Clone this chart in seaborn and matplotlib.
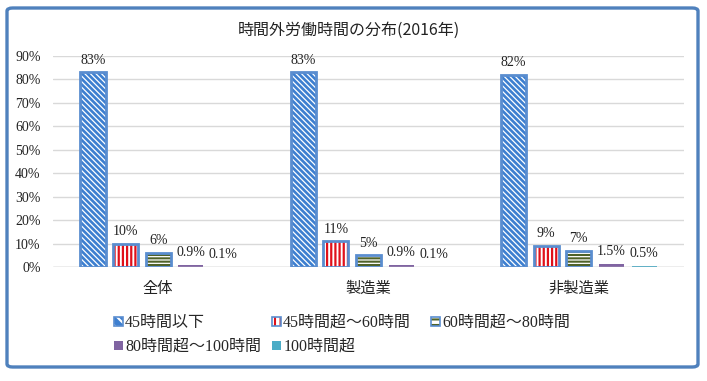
import matplotlib
matplotlib.use("Agg")
import matplotlib.pyplot as plt
import seaborn as sns
import pandas as pd
from matplotlib.patches import Patch, Rectangle, FancyBboxPatch

categories = ["全体", "製造業", "非製造業"]
groups = ["45時間以下", "45時間超～60時間", "60時間超～80時間", "80時間超～100時間", "100時間超"]
share_all = [83, 10, 6, 0.9, 0.1]
share_mfg = [83, 11, 5, 0.9, 0.1]
share_nonmfg = [82, 9, 7, 1.5, 0.5]
yticks = [0, 10, 20, 30, 40, 50, 60, 70, 80, 90]

face = ["#3d7fd0", "white", "white", "#8064a2", "#4bacc6"]
hatch_col = ["white", "#e0101a", "#4f6228", None, None]
hatches = ["\\" * 6, "||||", "-----", None, None]
hatch_lw = [0.9, 1.6, 1.5, None, None]
border = "#5a8dcf"
frame_col = "#4f81bd"

df = pd.DataFrame({
    "category": [c for c in categories for _ in groups],
    "group": groups * 3,
    "share": share_all + share_mfg + share_nonmfg,
})

sns.set_theme(style="white")
plt.rcParams["font.family"] = ["Liberation Serif", "Noto Sans CJK JP"]
plt.rcParams["hatch.linewidth"] = 1.5
cjk = ["Liberation Serif", "Noto Sans CJK JP"]

fig = plt.figure(figsize=(7.07, 3.81), dpi=100)
ax = fig.add_axes([0.075, 0.299, 0.8925, 0.554])

sns.barplot(data=df, x="category", y="share", hue="group", hue_order=groups,
            palette=face, saturation=1, width=0.775, gap=0.23, legend=False, ax=ax)

for i, cont in enumerate(ax.containers):
    for bar in cont:
        bar.set_linewidth(0)
        if hatches[i]:
            bar.set_hatch(hatches[i])
            bar.set_edgecolor(hatch_col[i])
            if hasattr(bar, "set_hatch_linewidth"):
                bar.set_hatch_linewidth(hatch_lw[i])
            ax.add_patch(Rectangle((bar.get_x(), bar.get_y()), bar.get_width(), bar.get_height(),
                                   fill=False, edgecolor=border, lw=2, zorder=3))
    ax.bar_label(cont, labels=[f"{v:g}%" for v in cont.datavalues], padding=4,
                 fontsize=10, family="Liberation Serif", color="#222222")

ax.set_ylim(0, 90)
ax.set_yticks(yticks)
ax.set_yticklabels([f"{t}%" for t in yticks], fontsize=10, family="Liberation Serif", color="#222222")
ax.set_xticks(range(len(categories)))
ax.set_xticklabels(categories, fontsize=11, family="Noto Sans CJK JP", color="#222222")
ax.tick_params(axis="y", length=0, pad=9)
ax.tick_params(axis="x", length=0, pad=9)
ax.set_xlabel("")
ax.set_ylabel("")
ax.yaxis.grid(True, color="#d9d9d9", lw=1)
ax.set_axisbelow(True)
for s in ax.spines.values():
    s.set_visible(False)
ax.axhline(0, color="#c8c8c8", lw=1, zorder=1)

handles = []
for i in range(len(groups)):
    if hatches[i]:
        handles.append((Patch(facecolor=face[i], edgecolor=hatch_col[i], hatch=hatches[i][:3], lw=0),
                        Patch(facecolor="none", edgecolor=border, lw=1.2)))
    else:
        handles.append(Patch(facecolor=face[i], edgecolor="none"))

# legend laid out as three equal-width columns, one legend per column
columns = [[0, 3], [1, 4], [2]]
col_x = [114, 272, 431]
for xs, items in zip(col_x, columns):
    fig.legend([handles[k] for k in items], [groups[k] for k in items],
               loc="upper left", bbox_to_anchor=(xs / 707, 1 - 315 / 381),
               ncol=1, frameon=False, prop={"family": cjk, "size": 11.5},
               handlelength=0.55, handleheight=0.55, handletextpad=0.15,
               labelspacing=0.5, borderaxespad=0, borderpad=0)

fig.text(0.493, 0.921, "時間外労働時間の分布(2016年)", ha="center", va="center",
         fontsize=11.5, family="Noto Sans CJK JP", color="#222222")

frame = FancyBboxPatch((7 / 707, 14 / 381), 691 / 707, 359 / 381,
                       boxstyle="round,pad=0,rounding_size=0.008", transform=fig.transFigure,
                       facecolor="none", edgecolor=frame_col, lw=2.4)
fig.patches.append(frame)

fig.savefig("out.png", dpi=100, facecolor="white")
